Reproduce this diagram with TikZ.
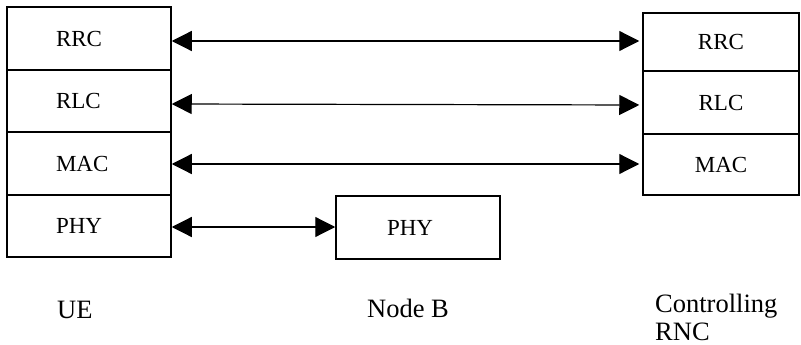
\documentclass[tikz,border=0pt]{standalone}
\usepackage{fontspec}
\setmainfont{Liberation Serif}
\usetikzlibrary{arrows.meta}
\begin{document}
\begin{tikzpicture}[x=1pt,y=-1pt,
  layer/.style={draw, line width=1.5pt, inner sep=0pt, font=\fontsize{23}{26}\selectfont},
  leftlayer/.style={layer, minimum width=164pt, text width=66pt, inner xsep=49pt, align=left},
  rightlayer/.style={layer, minimum width=156pt, align=center},
  nodeblayer/.style={layer, minimum width=164pt, text width=62pt, inner xsep=51pt, align=left},
  tip/.tip={Triangle[length=20pt,width=20pt]},
  conn/.style={line width=1.2pt, tip-tip},
  caption/.style={font=\fontsize{26.5}{28}\selectfont, inner sep=0pt}
]
\useasboundingbox (0,0) rectangle (801,345);

% UE stack
\node[leftlayer, minimum height=63pt] (uerrc) at (89,38.5) {RRC};
\node[leftlayer, minimum height=62pt] (uerlc) at (89,101) {RLC};
\node[leftlayer, minimum height=63pt] (uemac) at (89,163.5) {MAC};
\node[leftlayer, minimum height=62pt] (uephy) at (89,226) {PHY};

% Controlling RNC stack
\node[rightlayer, minimum height=58pt] (rncrrc) at (721,42) {RRC};
\node[rightlayer, minimum height=63pt] (rncrlc) at (721,102.5) {RLC};
\node[rightlayer, minimum height=61pt] (rncmac) at (721,164.5) {MAC};

% Node B
\node[nodeblayer, minimum height=63pt] (nbphy) at (418,227.5) {PHY};

% connectors
\draw[conn, shorten >=3pt] ([yshift=-2.5pt]uerrc.east) -- ([yshift=1pt]rncrrc.west);
\draw[conn, shorten >=3pt] ([yshift=-3pt]uerlc.east) -- ([yshift=-2.5pt]rncrlc.west);
\draw[conn, shorten >=3pt] ([yshift=-0.5pt]uemac.east) -- ([yshift=0.5pt]rncmac.west);
\draw[conn] ([yshift=-1pt]uephy.east) -- ([yshift=0.5pt]nbphy.west);

% captions
\node[caption, anchor=base west] (ue) at (57,318) {UE};
\node[caption, anchor=base west] (nodeb) at (367,317) {Node B};
\node[caption, anchor=north west, align=left] (rnc) at (655,294) {Controlling\\RNC};
\end{tikzpicture}
\end{document}
